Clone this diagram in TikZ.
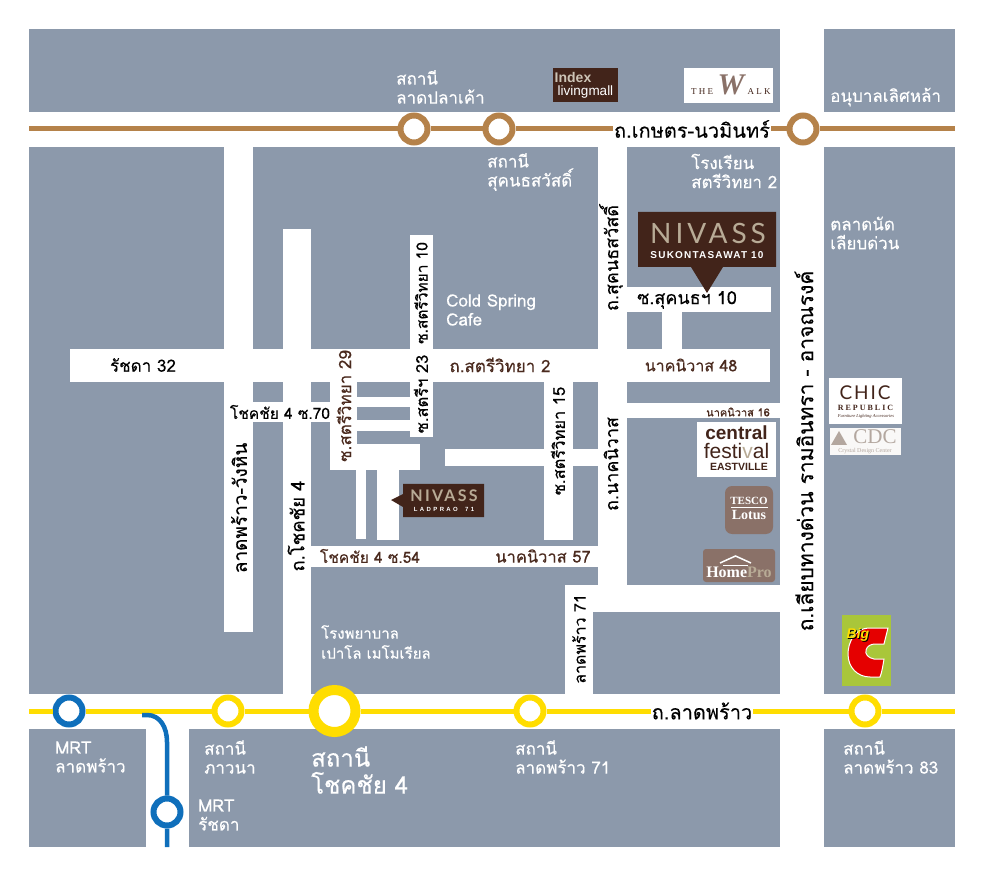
\documentclass[tikz,border=0pt]{standalone}
\usepackage{fontspec}
\setmainfont[Script=Thai,FakeBold=0.35]{Loma}
\newfontfamily\logofont[LetterSpace=14]{Lato}
\newfontfamily\logosub[LetterSpace=12]{Liberation Sans}
\newfontfamily\chicfont[LetterSpace=10]{Lato}
\newfontfamily\arialfont{Liberation Sans}
\newfontfamily\timesfont{Liberation Serif}
\definecolor{blockgrey}{HTML}{8C99AB}
\definecolor{kasetbrown}{HTML}{B5824A}
\definecolor{latyellow}{HTML}{FFDD00}
\definecolor{mrtblue}{HTML}{0F6FBB}
\definecolor{nivassbrown}{HTML}{42241A}
\definecolor{nivasstan}{HTML}{B8AB96}
\definecolor{shopbrown}{HTML}{8A7168}
\definecolor{labelbrown}{HTML}{4A2A1E}
\definecolor{bigcgreen}{HTML}{A9C63A}
\definecolor{cdctan}{HTML}{B3A79F}
\tikzset{
  road/.style={fill=white},
  place/.style={text=white, anchor=west, align=left, inner sep=0pt, font=\fontsize{17}{19}\selectfont},
  roadname/.style={text=black, inner sep=1pt, font=\fontsize{17}{19}\selectfont},
  roadbrown/.style={roadname, text=labelbrown},
  ring/.style={circle, fill=white, inner sep=0pt, line width=6pt, minimum size=27pt},
  kasetring/.style={ring, draw=kasetbrown},
  latring/.style={ring, draw=latyellow},
  mrtring/.style={ring, draw=mrtblue}
}
\begin{document}
\begin{tikzpicture}[x=1pt,y=-1pt]
\useasboundingbox (0,0) rectangle (983,874);
\fill[blockgrey] (29,29) rectangle (955,847);
\fill[road] (29,112) rectangle (955,147);
\fill[road] (29,694) rectangle (955,729);
\fill[road] (780,29) rectangle (824,847);
\fill[road] (146,729) rectangle (189,847);
\fill[road] (224,147) rectangle (253,632);
\fill[road] (283,229) rectangle (311,694);
\fill[road] (598,147) rectangle (627,612);
\fill[road] (565,585) rectangle (780,612);
\fill[road] (565,585) rectangle (593,694);
\fill[road] (70,349) rectangle (770,382);
\fill[road] (627,287) rectangle (771,312);
\fill[road] (662,312) rectangle (682,349);
\fill[road] (627,403) rectangle (780,418);
\fill[road] (410,235) rectangle (433,437);
\fill[road] (330,349) rectangle (357,470);
\fill[road] (357,397) rectangle (410,407);
\fill[road] (357,420) rectangle (410,431);
\fill[road] (330,444) rectangle (420,470);
\fill[road] (356,470) rectangle (366,539);
\fill[road] (377,470) rectangle (399,540);
\fill[road] (311,546) rectangle (598,567);
\fill[road] (544,382) rectangle (573,540);
\fill[road] (445,449) rectangle (598,466);
\fill[road] (253,402) rectangle (330,422);

\coordinate (kasetw) at (29,129);
\coordinate (kasete) at (955,129);
\coordinate (latw) at (29,711);
\coordinate (late) at (955,711);
\coordinate (mrtcurve) at (142,715);
\coordinate (mrtend) at (167,847);

\node[kasetring] (ladplakhao) at (414,129) {};
\node[kasetring] (sukhon) at (499,129) {};
\node[kasetring] (kasetram) at (803,129) {};
\node[roadname, fill=white, font=\fontsize{20}{22}\selectfont] (kasetname) at (692,129) {ถ.เกษตร-นวมินทร์};
\draw[kasetbrown, line width=5pt] (kasetw) -- (ladplakhao) -- (sukhon) -- (kasetname) -- (kasetram) -- (kasete);

\node[mrtring] (mrtlat) at (69,711) {};
\node[latring] (phawana) at (228,711) {};
\node[latring, line width=10pt, minimum size=42pt] (chokchai) at (334.5,711) {};
\node[latring] (lat71) at (530,711) {};
\node[latring] (lat83) at (865,711) {};
\node[mrtring] (mrtrat) at (167,812) {};
\node[roadname, fill=white, font=\fontsize{20}{22}\selectfont] (latname) at (702,711) {ถ.ลาดพร้าว};
\draw[latyellow, line width=5pt] (latw) -- (mrtlat) -- (phawana) -- (chokchai) -- (lat71) -- (latname) -- (lat83) -- (late);
\draw[mrtblue, line width=4.5pt] (mrtcurve) -- (147,715) .. controls (160,715) and (167,727) .. (167,742) -- (mrtrat) -- (mrtend);

\node[place] (ladplatxt) at (396,87) {สถานี\\ลาดปลาเค้า};
\node[place] (sukhontxt) at (487,172) {สถานี\\สุคนธสวัสดิ์};
\node[place] (schooltxt) at (691,171) {โรงเรียน\\สตรีวิทยา 2};
\node[place] (kindertxt) at (830,97) {อนุบาลเลิศหล้า};
\node[place] (markettxt) at (830,233) {ตลาดนัด\\เลียบด่วน};
\node[place] (cafetxt) at (446,310) {Cold Spring\\Cafe};
\node[place, font=\fontsize{15}{20}\selectfont] (hosptxt) at (321,642) {โรงพยาบาล\\เปาโล เมโมเรียล};
\node[place] (mrtlattxt) at (55,757) {MRT\\ลาดพร้าว};
\node[place] (phawanatxt) at (204,757) {สถานี\\ภาวนา};
\node[place, font=\fontsize{24}{27}\selectfont] (chokchaitxt) at (311,770) {สถานี\\โชคชัย 4};
\node[place] (lat71txt) at (515,757) {สถานี\\ลาดพร้าว 71};
\node[place] (lat83txt) at (843,757) {สถานี\\ลาดพร้าว 83};
\node[place] (mrtrattxt) at (198,815) {MRT\\รัชดา};

\node[roadname] (ratchada) at (143,365) {รัชดา 32};
\node[roadbrown] (satri2) at (500,365) {ถ.สตรีวิทยา 2};
\node[roadbrown, font=\fontsize{16}{18}\selectfont] (nak48) at (691,365) {นาคนิวาส 48};
\node[roadname, font=\fontsize{18}{20}\selectfont] (sukhon10) at (687,300) {ซ.สุคนธฯ 10};
\node[roadbrown, font=\fontsize{11}{12}\selectfont] (nak16) at (738,412) {นาคนิวาส 16};
\node[roadname, font=\fontsize{15.5}{18}\selectfont] (chok70) at (280,412) {โชคชัย 4 ซ.70};
\node[roadbrown, font=\fontsize{15.5}{18}\selectfont] (chok54) at (370,556) {โชคชัย 4 ซ.54};
\node[roadbrown, font=\fontsize{16.5}{18}\selectfont] (nak57) at (543,556) {นาคนิวาส 57};
\node[roadname, rotate=90, font=\fontsize{19}{21}\selectfont] (wanghin) at (239,508) {ลาดพร้าว-วังหิน};
\node[roadname, rotate=90, font=\fontsize{18.5}{21}\selectfont] (chok4) at (296,526) {ถ.โชคชัย 4};
\node[roadbrown, rotate=90] (satri29) at (344,406) {ซ.สตรีวิทยา 29};
\node[roadname, rotate=90, font=\fontsize{15.5}{18}\selectfont] (satri10) at (421,293) {ซ.สตรีวิทยา 10};
\node[roadname, rotate=90, font=\fontsize{16.5}{18}\selectfont] (satri23) at (421,394) {ซ.สตรีฯ 23};
\node[roadname, rotate=90, font=\fontsize{16.5}{18}\selectfont] (satri15) at (558,441) {ซ.สตรีวิทยา 15};
\node[roadname, rotate=90, font=\fontsize{18}{21}\selectfont] (nakniwas) at (611,464) {ถ.นาคนิวาส};
\node[roadname, rotate=90, font=\fontsize{18}{21}\selectfont] (sukhonrd) at (611,258) {ถ.สุคนธสวัสดิ์};
\node[roadname, rotate=90, font=\fontsize{16}{18}\selectfont] (lad71) at (579,639) {ลาดพร้าว 71};
\node[roadname, rotate=90, font=\fontsize{21}{23}\selectfont] (ramintra) at (804,451) {ถ.เลียบทางด่วน รามอินทรา - อาจณรงค์};

\fill[nivassbrown] (638,212) -- (776,212) -- (776,267) -- (723,267) -- (707,293) -- (691,267) -- (638,267) -- cycle;
\node[text=nivasstan, font=\logofont\fontsize{28}{30}\selectfont] (nivassbig) at (708,233) {NIVASS};
\node[text=white, font=\logosub\bfseries\fontsize{10}{11}\selectfont] (nivassbigsub) at (707,255) {SUKONTASAWAT 10};
\fill[nivassbrown] (391,500) -- (403,494) -- (403,484) -- (484,484) -- (484,517) -- (403,517) -- (403,507) -- cycle;
\node[text=nivasstan, font=\logofont\bfseries\fontsize{16}{18}\selectfont] (nivasssmall) at (444,496) {NIVASS};
\node[text=white, font=\logosub\bfseries\fontsize{6}{7}\selectfont] (nivasssmallsub) at (444,509) {L A D P R A O \ \ 7 1};

\fill[nivassbrown] (553,68) rectangle (618,102);
\node[text=nivasstan!70!white, inner sep=0pt, font=\arialfont\bfseries\fontsize{14}{14}\selectfont] (indextxt) at (573,77) {Index};
\node[text=white, inner sep=0pt, font=\arialfont\fontsize{13.5}{13.5}\selectfont] (livingtxt) at (585.5,92.5) {livingmall};
\fill[white] (684,68) rectangle (773,103);
\node[text=shopbrown, inner sep=0pt, font=\timesfont\bfseries\itshape\fontsize{30}{30}\selectfont] (walkw) at (731,85) {W};
\node[text=nivassbrown, inner sep=0pt, font=\timesfont\fontsize{9}{10}\selectfont] (walkthe) at (702,92) {T H E};
\node[text=nivassbrown, inner sep=0pt, font=\timesfont\fontsize{9}{10}\selectfont] (walkalk) at (759,92) {A L K};

\fill[white] (697,422) rectangle (776,477);
\node[text=nivassbrown, inner sep=0pt, font=\arialfont\bfseries\fontsize{19}{19}\selectfont] (centraltxt) at (736.5,433) {central};
\node[text=nivassbrown, inner sep=0pt, font=\arialfont\fontsize{21}{21}\selectfont] (festivaltxt) at (736.5,451) {festi{\color{nivasstan}v}al};
\node[text=nivassbrown, inner sep=0pt, font=\arialfont\bfseries\fontsize{10.5}{10.5}\selectfont] (eastviletxt) at (739,467) {EASTVILLE};

\fill[shopbrown, rounded corners=7pt] (725,486) rectangle (773,534);
\node[text=white, inner sep=0pt, font=\timesfont\bfseries\fontsize{11}{11}\selectfont] (tescotxt) at (749,501) {TESCO};
\draw[white, line width=1pt] (731,507) -- (768,507);
\node[text=white, inner sep=0pt, font=\timesfont\bfseries\fontsize{14}{14}\selectfont] (lotustxt) at (749,515) {Lotus};
\fill[shopbrown, rounded corners=3pt] (703,549) rectangle (775,582);
\draw[white, line width=1.5pt] (720,563) -- (735.5,556) -- (751,563);
\draw[white, line width=1pt] (723,565) -- (748,565);
\node[text=white, inner sep=0pt, font=\timesfont\bfseries\fontsize{16}{16}\selectfont] (hometxt) at (739,572.5) {Home{\color{nivasstan}Pro}};

\fill[white] (829,378) rectangle (902,424);
\node[text=nivassbrown, inner sep=0pt, font=\chicfont\fontsize{19}{19}\selectfont] (chictxt) at (865,393) {CHIC};
\node[text=nivassbrown, inner sep=0pt, font=\timesfont\bfseries\fontsize{8}{8}\selectfont] (republictxt) at (865.5,408) {R E P U B L I C};
\node[text=nivassbrown, inner sep=0pt, font=\timesfont\itshape\fontsize{4.5}{4.5}\selectfont] (chicsubtxt) at (866,416) {Furniture Lighting Accessories};
\fill[white!92!nivasstan] (830,428) rectangle (901,455);
\fill[cdctan] (831,445) -- (839,431) -- (847,445) -- cycle;
\node[text=cdctan, inner sep=0pt, font=\timesfont\fontsize{21}{21}\selectfont] (cdctxt) at (875,437) {CDC};
\node[text=cdctan, inner sep=0pt, font=\timesfont\fontsize{6}{6}\selectfont] (cdcsubtxt) at (865,451.5) {Crystal Design Center};

\fill[bigcgreen] (842,615) rectangle (891,686);
\filldraw[fill=red!90!black, draw=white, line width=1pt] (888,628) -- (868,628) .. controls (855,629) and (848,642) .. (848,654) .. controls (848,668) and (858,677) .. (870,677) -- (880,677) .. controls (882,672) and (883,665) .. (884,659) -- (874,659) .. controls (868,658) and (865,654) .. (866,650) .. controls (867,646) and (871,644) .. (875,644) -- (884,644) -- cycle;
\node[text=black, inner sep=0pt, font=\arialfont\bfseries\itshape\fontsize{14}{14}\selectfont] (bigshadow) at (859,635.5) {Big};
\node[text=latyellow, inner sep=0pt, font=\arialfont\bfseries\itshape\fontsize{14}{14}\selectfont] (bigtxt) at (858,634.5) {Big};
\end{tikzpicture}
\end{document}
